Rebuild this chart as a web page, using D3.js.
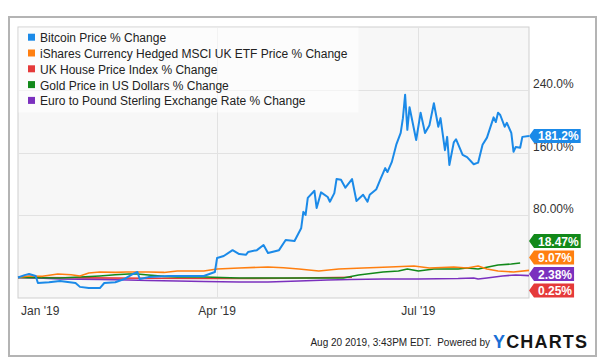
<!DOCTYPE html>
<html lang="en">
  <head>
    <meta charset="utf-8">
    <title>Bitcoin vs UK assets</title>
    <script src="https://d3js.org/d3.v7.js"></script>
    <style>
      body { margin: 0; background: #fff; }
      * { font-family: "Liberation Sans", Arial, sans-serif; }
    </style>
  </head>
  <body>
    <script type="text/javascript">

      // series names + colours
      const seriesNames = [
        "Bitcoin Price % Change",
        "iShares Currency Hedged MSCI UK ETF Price % Change",
        "UK House Price Index % Change",
        "Gold Price in US Dollars % Change",
        "Euro to Pound Sterling Exchange Rate % Change"
      ];
      const seriesColors = ["#1b8ae8", "#ff7f10", "#e53a3a", "#12891a", "#7b30be"];
      const lastValues = ["181.2%", "9.07%", "0.25%", "18.47%", "2.38%"];

      // [month-day, % change] (2019)
      const bitcoin = [
        ["01-01",0],["01-04",3],["01-06",4.5],["01-09",2],["01-10",-7],["01-15",-6],["01-20",-4.5],
        ["01-27",-7],["01-29",-12],["02-02",-13.5],["02-07",-13.5],["02-09",-7],["02-14",-6],["02-18",-2],
        ["02-22",4.5],["02-24",7],["02-25",-2],["03-01",0.5],["03-10",2],["03-19",2],["03-26",2],["03-31",7],
        ["04-01",25],["04-04",27.5],["04-08",35],["04-11",30],["04-14",29],["04-15",32.6],["04-19",35],
        ["04-22",41.6],["04-24",31.4],["04-29",35],["05-02",48],["05-06",46.7],["05-09",63],["05-10",84],
        ["05-11",80],["05-12",102],["05-15",111],["05-16",89],["05-18",109],["05-21",103],["05-22",97],
        ["05-24",108],["05-25",126],["05-27",125],["05-29",115],["06-01",126],["06-03",98],["06-06",106],
        ["06-08",97],["06-09",106],["06-12",113],["06-14",127],["06-16",140],["06-17",135],["06-19",148],
        ["06-21",170],["06-23",185],["06-24",204],["06-25",234],["06-26",189],["06-27",218],["06-30",176],
        ["07-02",211],["07-04",185],["07-06",195],["07-08",223],["07-10",193],["07-11",204],["07-13",163],
        ["07-14",180],["07-15",144],["07-17",173],["07-18",177],["07-21",157],["07-23",154],["07-26",145],
        ["07-28",147],["07-30",170],["08-01",179],["08-04",205],["08-05",199],["08-06",211],["08-07",208],
        ["08-09",193],["08-10",198],["08-12",185],["08-13",161],["08-14",167],["08-16",166],["08-17",180],
        ["08-20",181.2]
      ];
      const ishares = [
        ["01-01",0],["01-06",2],["01-12",1.5],["01-19",4.5],["01-25",3.5],["01-29",2],["02-02",5.8],
        ["02-07",7],["02-14",6.5],["02-19",7],["03-01",7],["03-08",6.5],["03-14",8.3],["03-26",8.3],
        ["04-01",10.9],["04-11",12.2],["04-24",13.4],["05-01",12.5],["05-08",10.9],["05-17",8.3],
        ["05-26",10.9],["06-06",12.2],["06-18",13.4],["06-29",14.7],["07-06",12.2],["07-17",13.4],
        ["07-23",12.2],["07-28",14.7],["08-01",10.9],["08-06",8.3],["08-13",7],["08-20",9.07]
      ];
      const houseIndex = [
        ["01-01",0],["02-01",-0.5],["03-01",-1.0],["04-01",-1.2],["05-01",-1.0],["06-01",0.25]
      ];
      const gold = [
        ["01-01",0],["01-10",-0.3],["01-20",-0.6],["01-29",0.6],["02-07",2],["02-14",3.5],["02-20",4.5],
        ["02-24",4.5],["03-01",3.2],["03-08",1.5],["03-14",0.6],["03-26",0.6],["04-11",-0.6],["04-24",-0.6],
        ["05-08",-0.6],["05-28",-0.6],["06-04",3.2],["06-15",7],["06-22",8.3],["06-26",10.9],["07-01",8.3],
        ["07-08",10.9],["07-19",10.9],["07-23",12.2],["07-28",10.9],["08-06",16],["08-12",17.3],["08-16",18.47]
      ];
      const eurGbp = [
        ["01-01",0],["01-10",-0.6],["01-20",-1.9],["02-07",-2.5],["02-20",-3.2],["03-01",-3.8],["03-14",-4.5],
        ["03-26",-5.2],["04-11",-5.8],["04-24",-5.8],["05-08",-4.5],["05-21",-3.2],["05-31",-2.5],["06-15",-1.9],
        ["07-01",-1.9],["07-19",-1.3],["07-26",-0.6],["07-28",-1.9],["08-01",-0.6],["08-08",2],["08-14",3.2],
        ["08-20",2.38]
      ];

      const yTicks = [80, 160, 240];
      const yTickLabels = ["80.00%", "160.0%", "240.0%"];
      const xTicks = ["01-01", "04-01", "07-01"];
      const xTickLabels = ["Jan '19", "Apr '19", "Jul '19"];
      const footerText = "Aug 20 2019, 3:43PM EDT.\u00a0 Powered by";

      const w = 602;
      const h = 363;
      const plot = {left: 18, top: 27, right: 529, bottom: 298};

      const parse = d3.timeParse("%Y-%m-%d");
      const day = s => parse("2019-" + s);

      const allSeries = [bitcoin, ishares, houseIndex, gold, eurGbp]
        .map((arr, i) => ({name: seriesNames[i], color: seriesColors[i], label: lastValues[i],
                           values: arr.map(d => ({date: day(d[0]), v: d[1]}))}));

      const xScale = d3.scaleTime()
        .domain([day("01-01"), day("08-20")])
        .range([plot.left, plot.right]);

      const yScale = d3.scaleLinear()
        .domain([0, 80])
        .range([277.5, 215]);

      const svg = d3.select("body")
        .append("svg")
        .attr("width", w)
        .attr("height", h);

      // outer frame
      svg.append("rect")
        .attr("x", 9).attr("y", 17)
        .attr("width", 587).attr("height", 339)
        .attr("fill", "#fff")
        .attr("stroke", "#b4b4b4")
        .attr("stroke-width", 2);

      // plot background
      svg.append("rect")
        .attr("x", plot.left).attr("y", plot.top)
        .attr("width", plot.right - plot.left)
        .attr("height", plot.bottom - plot.top)
        .attr("fill", "#f7f7f7")
        .attr("stroke", "#cfcfcf");

      // grid lines
      const grid = svg.append("g").attr("id", "grid");
      grid.selectAll("line.h")
        .data(yTicks)
        .enter()
        .append("line")
        .attr("class", "h")
        .attr("x1", plot.left).attr("x2", plot.right)
        .attr("y1", d => Math.round(yScale(d)) + 0.5)
        .attr("y2", d => Math.round(yScale(d)) + 0.5)
        .attr("stroke", "#e2e2e2");
      grid.selectAll("line.v")
        .data(xTicks.slice(1))
        .enter()
        .append("line")
        .attr("class", "v")
        .attr("y1", plot.top).attr("y2", plot.bottom)
        .attr("x1", d => Math.round(xScale(day(d))) + 0.5)
        .attr("x2", d => Math.round(xScale(day(d))) + 0.5)
        .attr("stroke", "#e2e2e2");

      // lines
      const line = d3.line()
        .x(d => xScale(d.date))
        .y(d => yScale(d.v));

      const drawOrder = [2, 4, 3, 1, 0];
      svg.append("g")
        .attr("id", "lines")
        .selectAll("path")
        .data(drawOrder.map(i => allSeries[i]))
        .enter()
        .append("path")
        .attr("d", d => line(d.values))
        .attr("fill", "none")
        .attr("stroke", d => d.color)
        .attr("stroke-width", (d, i) => i == 4 ? 2 : 1.6)
        .attr("stroke-linejoin", "round");

      // legend
      const legend = svg.append("g").attr("id", "legend");
      legend.append("rect")
        .attr("x", plot.left + 0.5).attr("y", plot.top + 0.5)
        .attr("width", 340).attr("height", 85)
        .attr("fill", "#fff")
        .attr("opacity", 0.6);
      const items = legend.selectAll("g.item")
        .data(allSeries)
        .enter()
        .append("g")
        .attr("class", "item")
        .attr("transform", (d, i) => `translate(28, ${37.7 + i * 15.8})`);
      items.append("rect")
        .attr("x", 0).attr("y", -4)
        .attr("width", 7).attr("height", 7)
        .attr("fill", d => d.color);
      items.append("text")
        .attr("x", 12).attr("y", 4.5)
        .attr("font-size", 12)
        .attr("fill", "#222")
        .text(d => d.name);

      // y axis labels (right side)
      svg.append("g")
        .selectAll("text")
        .data(yTicks)
        .enter()
        .append("text")
        .attr("x", 533)
        .attr("y", d => yScale(d) - 2)
        .attr("font-size", 12)
        .attr("fill", "#333")
        .text((d, i) => yTickLabels[i]);

      // x axis labels
      svg.append("g")
        .selectAll("text")
        .data(xTicks)
        .enter()
        .append("text")
        .attr("x", (d, i) => i == 0 ? 21 : xScale(day(d)))
        .attr("y", 315)
        .attr("text-anchor", (d, i) => i == 0 ? "start" : "middle")
        .attr("font-size", 12)
        .attr("fill", "#333")
        .text((d, i) => xTickLabels[i]);

      // last value tags, pushed apart so they do not overlap
      const tags = allSeries.map(s => ({s: s, y: yScale(s.values[s.values.length - 1].v)}))
        .sort((a, b) => a.y - b.y);
      const gap = 16.5, maxY = 290.5;
      for (let i = 1; i < tags.length; i++) tags[i].y = Math.max(tags[i].y, tags[i - 1].y + gap);
      tags[tags.length - 1].y = Math.min(tags[tags.length - 1].y, maxY);
      for (let i = tags.length - 2; i >= 0; i--) tags[i].y = Math.min(tags[i].y, tags[i + 1].y - gap);

      const tagG = svg.append("g")
        .attr("id", "tags")
        .selectAll("g")
        .data(tags)
        .enter()
        .append("g")
        .attr("transform", d => `translate(${plot.right}, ${d.y})`);
      tagG.append("text")
        .attr("class", "t")
        .attr("x", 9).attr("y", 4.5)
        .attr("font-size", 12)
        .attr("font-weight", "bold")
        .attr("fill", "#fff")
        .text(d => d.s.label);
      tagG.each(function(d) {
        const tw = d3.select(this).select("text").node().getComputedTextLength();
        d3.select(this).insert("path", "text")
          .attr("d", `M0,0 L5,-7 L${tw + 11},-7 L${tw + 11},7 L5,7 Z`)
          .attr("fill", d.s.color);
      });

      // footer
      svg.append("text")
        .attr("x", 490).attr("y", 346)
        .attr("text-anchor", "end")
        .attr("font-size", 10)
        .attr("fill", "#222")
        .text(footerText);
      const logo = svg.append("text")
        .attr("x", 493).attr("y", 347.5)
        .attr("font-size", 18)
        .attr("font-weight", "bold")
        .attr("textLength", 94)
        .attr("lengthAdjust", "spacing");
      logo.append("tspan").attr("fill", "#1a6fd6").text("Y");
      logo.append("tspan").attr("fill", "#151515").text("CHARTS");

    </script>
  </body>
</html>
